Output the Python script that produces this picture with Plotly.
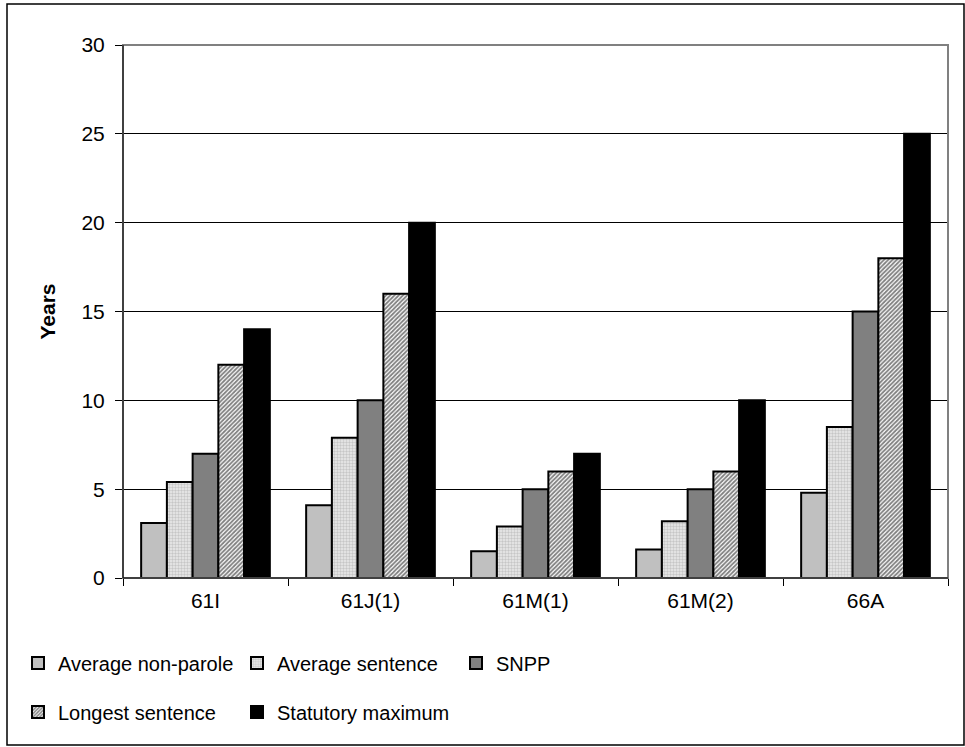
import plotly.graph_objects as go

# ----------------------------------------------------------------------------
# DATA
categories = ['61I', '61J(1)', '61M(1)', '61M(2)', '66A']

avg_non_parole = [3.1, 4.1, 1.5, 1.6, 4.8]
avg_sentence = [5.4, 7.9, 2.9, 3.2, 8.5]
snpp = [7, 10, 5, 5, 15]
longest_sentence = [12, 16, 6, 6, 18]
statutory_max = [14, 20, 7, 10, 25]

y_ticks = [0, 5, 10, 15, 20, 25, 30]

# ----------------------------------------------------------------------------
# GRAPH
font_family = "Liberation Sans, Arial, sans-serif"
bar_line = dict(color='black', width=2)

fig = go.Figure()

fig.add_trace(go.Bar(x=categories, y=avg_non_parole, name="Average non-parole",
                     marker=dict(color='#c0c0c0', line=bar_line), legend='legend'))
fig.add_trace(go.Bar(x=categories, y=avg_sentence, name="Average sentence",
                     marker=dict(color='#ececec', line=bar_line,
                                 pattern=dict(shape='.', fgcolor='#a0a0a0', bgcolor='#ececec',
                                              size=3, solidity=0.5)),
                     legend='legend'))
fig.add_trace(go.Bar(x=categories, y=snpp, name="SNPP",
                     marker=dict(color='#808080', line=bar_line), legend='legend'))
fig.add_trace(go.Bar(x=categories, y=longest_sentence, name="Longest sentence",
                     marker=dict(color='white', line=bar_line,
                                 pattern=dict(shape='/', fgcolor='black', bgcolor='white',
                                              size=3, solidity=0.6)),
                     legend='legend2'))
fig.add_trace(go.Bar(x=categories, y=statutory_max, name="Statutory maximum",
                     marker=dict(color='black', line=bar_line), legend='legend2'))

# plot area in pixels: left 123, right 948, top 45, bottom 578
W, H = 965, 747
l, r, t, b = 123, 17, 45, 169
pw, ph = W - l - r, H - t - b

def px_x(x):
    return (x - l) / pw

def px_y(y):
    return (H - b - y) / ph

legend_common = dict(orientation='h', xanchor='left', yanchor='middle',
                     font=dict(family=font_family, size=20, color='black'),
                     entrywidth=174, entrywidthmode='pixels',
                     bgcolor='rgba(0,0,0,0)', traceorder='normal')

fig.update_layout(
    width=W, height=H,
    margin=dict(l=l, r=r, t=t, b=b),
    paper_bgcolor='white', plot_bgcolor='white',
    font=dict(family=font_family, size=21, color='black'),
    barmode='group', bargap=0.22, bargroupgap=0,
    legend=dict(x=px_x(18), y=px_y(663), **legend_common),
    legend2=dict(x=px_x(18), y=px_y(712), **legend_common),
)

fig.update_xaxes(type='category', showline=True, linecolor='black', linewidth=1,
                 ticks='outside', tickson='boundaries', ticklen=7, tickcolor='black',
                 showgrid=False, tickfont=dict(size=21), ticklabelstandoff=4)
fig.update_yaxes(range=[0, 30], tickvals=y_ticks, showline=True, linecolor='black', linewidth=1,
                 ticks='outside', ticklen=7, tickcolor='black',
                 showgrid=True, gridcolor='black', gridwidth=1, zeroline=False,
                 tickfont=dict(size=21), ticklabelstandoff=6,
                 title=dict(text='<b>Years</b>', font=dict(size=21), standoff=20))

# grey frame of the plot area (top and right)
fig.add_shape(type='rect', xref='paper', yref='paper', x0=0, x1=1, y0=0, y1=1,
              line=dict(color='#808080', width=2), layer='above')
fig.add_shape(type='line', xref='paper', yref='paper', x0=0, x1=0, y0=0, y1=1,
              line=dict(color='black', width=1), layer='above')
fig.add_shape(type='line', xref='paper', yref='paper', x0=0, x1=1, y0=0, y1=0,
              line=dict(color='black', width=1), layer='above')

# outer border of the chart
fig.add_shape(type='rect', xref='paper', yref='paper',
              x0=px_x(7), x1=px_x(964), y0=px_y(745), y1=px_y(4),
              line=dict(color='black', width=1.5), layer='above')

# the page's default body margin would shift the figure by 8 px
fig.write_html("out.html", config={'displayModeBar': False},
               post_script="document.body.style.margin='0';")
